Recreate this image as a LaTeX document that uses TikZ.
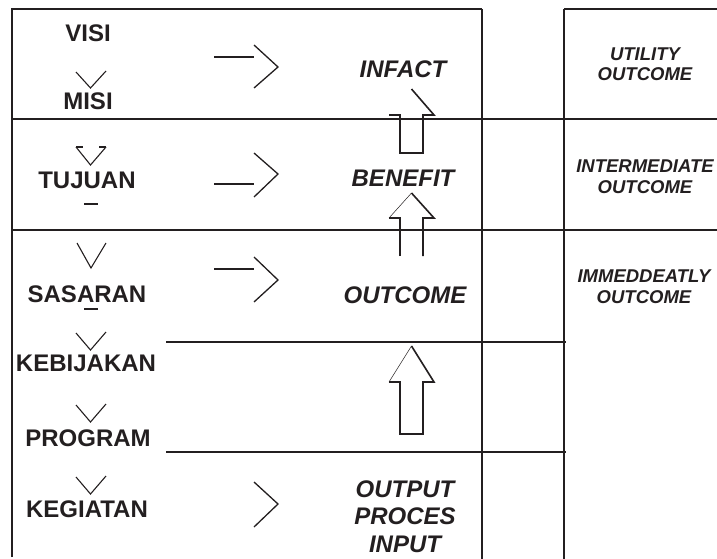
\documentclass[tikz,border=0pt]{standalone}
\usepackage{fontspec}
\setmainfont{Liberation Sans}
\usetikzlibrary{calc,positioning}
\definecolor{ink}{HTML}{231F20}

\begin{document}
\begin{tikzpicture}[x=1pt, y=-1pt, line join=miter]

  % Styles for the chart
  \tikzset{
    level/.style={font=\fontsize{24}{26}\selectfont\bfseries, text=ink, inner sep=0pt, anchor=base},
    result/.style={font=\fontsize{24}{27.5}\selectfont\bfseries\itshape, text=ink, inner sep=0pt, anchor=base, align=center},
    kind/.style={font=\fontsize{18.5}{20.5}\selectfont\bfseries\itshape, text=ink, inner sep=0pt, anchor=base, align=center},
    frame/.style={draw=ink, line width=1.8pt},
    tick/.style={draw=ink, line width=1.1pt},
    chevron/.style={draw=ink, line width=1.3pt},
    block/.style={draw=ink, line width=1.6pt},
    faint/.style={draw=ink, line width=0.5pt}
  }

  \useasboundingbox (0,0) rectangle (717,559);

  % Frame and row lines
  \draw[frame] (12,557) -- (12,9) -- (482,9);
  \draw[frame] (564,9) -- (717,9);
  \draw[frame] (482,9) -- (482,559);
  \draw[frame] (564,9) -- (564,559);
  \draw[frame] (12,119) -- (717,119);
  \draw[frame] (12,230) -- (717,230);
  \draw[frame] (166,342) -- (566,342);
  \draw[frame] (166,452) -- (566,452);

  % Planning levels (left column)
  \node (visi)      [level] at (88,42)  {VISI};
  \node (misi)      [level] at (88,110) {MISI};
  \node (tujuan)    [level] at (87,188) {TUJUAN};
  \node (sasaran)   [level] at (87,302) {SASARAN};
  \node (kebijakan) [level] at (86,371) {KEBIJAKAN};
  \node (program)   [level] at (88,446) {PROGRAM};
  \node (kegiatan)  [level] at (87,517) {KEGIATAN};

  % Small downward ticks between the levels
  \foreach \t/\b in {72/88, 333/350, 405/422, 477/494}
    \draw[tick] (76,\t) -- (90.5,\b) -- (106,\t-1);
  \draw[tick] (77,243) -- (91,268) -- (106,243);
  \draw[tick] (76,147) -- (90.5,165) -- (106,147);
  \draw[tick] (76,147) -- (83,147);
  \draw[tick] (99,147) -- (106,147);
  \draw[line width=1.8pt, ink] (84,204) -- (98,204);
  \draw[line width=1.8pt, ink] (84,309) -- (98,309);

  % Open arrows towards the results
  \draw[chevron] (214,57) -- (254,57);
  \draw[chevron] (254,45) -- (278,67) -- (254,88);
  \draw[chevron] (214,184) -- (254,184);
  \draw[chevron] (254,153) -- (278,174) -- (254,197);
  \draw[chevron] (214,269) -- (254,269);
  \draw[chevron] (254,257) -- (278,280) -- (254,302);
  \draw[chevron] (254,482) -- (278,504) -- (254,527);

  % Results (middle column)
  \node (infact)  [result] at (403,78)  {INFACT};
  \node (benefit) [result] at (403,186) {BENEFIT};
  \node (outcome) [result] at (405,303) {OUTCOME};
  \node (opi)     [result] at (405,552) {OUTPUT\\PROCES\\INPUT};

  % Block arrows going up
  \draw[block] (411.5,89) -- (434,115) -- (423,115) -- (423,153) -- (400,153) -- (400,115) -- (389,115);
  \draw[block] (423,256) -- (423,218) -- (434,218) -- (411.5,193);
  \draw[block] (400,256) -- (400,218) -- (389,218);
  \draw[faint] (389,218) -- (411.5,193);
  \draw[block] (411.5,346) -- (434,382) -- (423,382) -- (423,434) -- (400,434) -- (400,382) -- (389,382);
  \draw[faint] (389,382) -- (411.5,346);

  % Kinds of outcome (right column)
  \node (utility)      [kind] at (645,81)  {UTILITY\\OUTCOME};
  \node (intermediate) [kind] at (645,193) {INTERMEDIATE\\OUTCOME};
  \node (immediate)    [kind] at (644,303) {IMMEDDEATLY\\OUTCOME};

\end{tikzpicture}
\end{document}
